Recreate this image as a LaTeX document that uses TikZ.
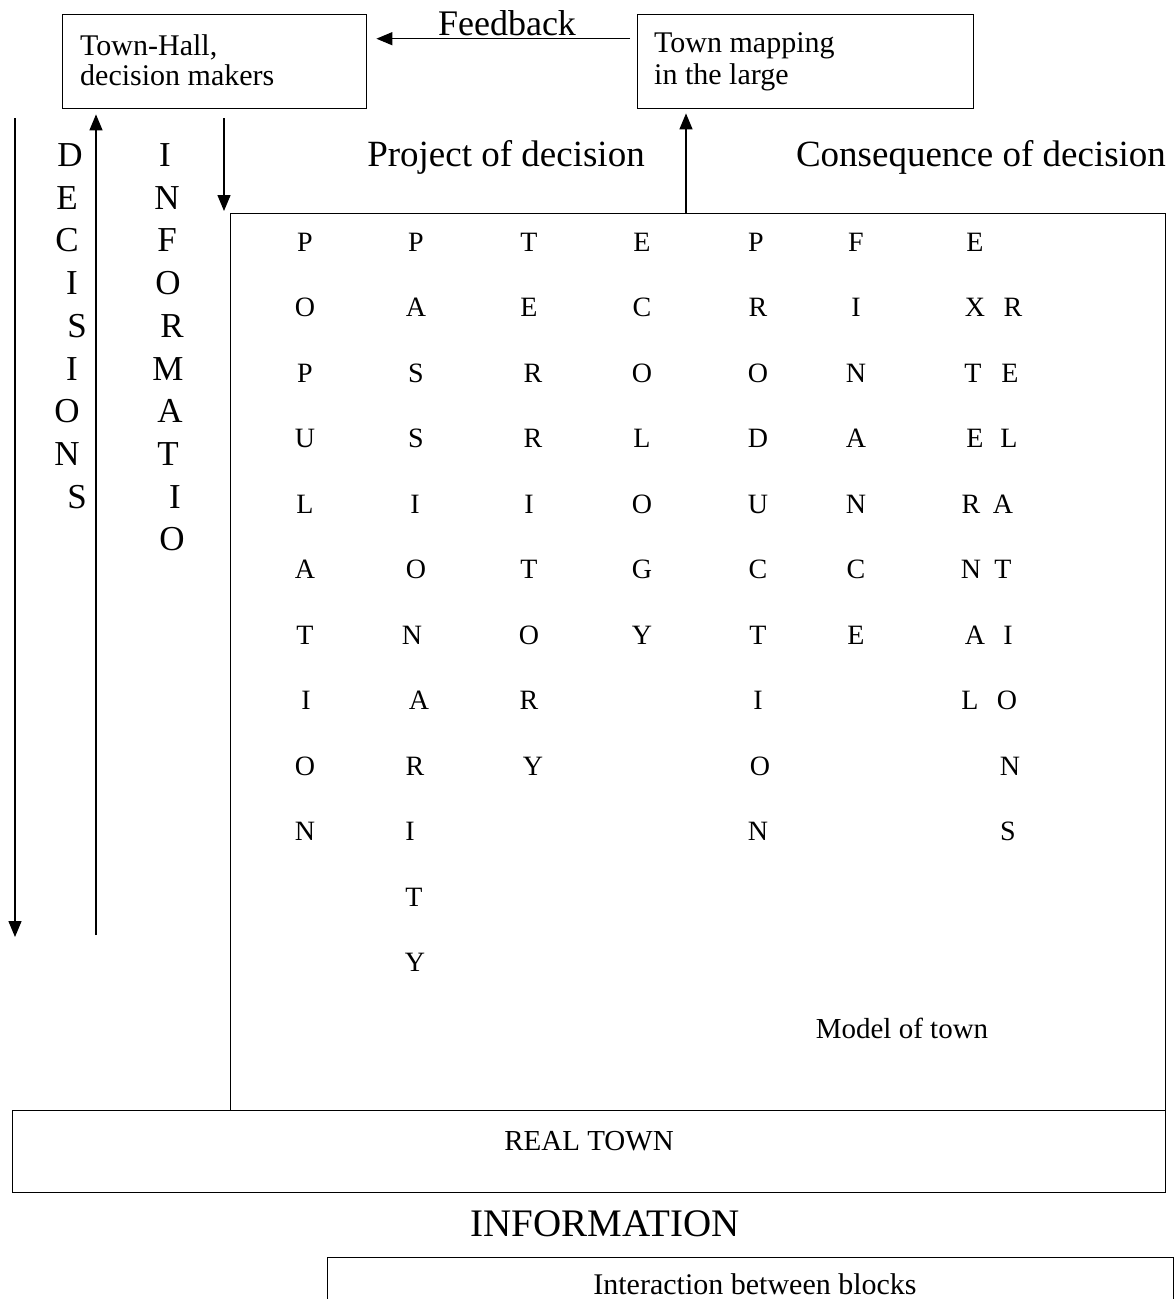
\documentclass[tikz,border=0pt]{standalone}
\usepackage{fontspec}
\setmainfont{Liberation Serif}
\usetikzlibrary{arrows.meta}
\newcommand{\fsz}[1]{\fontsize{#1}{#1}\selectfont}
\tikzset{
  box/.style={draw, line width=1.4pt, inner sep=0pt},
  arr/.style={line width=1.4pt, -{Triangle[length=16pt,width=13pt]}},
  lbl/.style={anchor=base, inner sep=0pt},
  letter/.style={anchor=base, inner sep=0pt, font=\fsz{28}},
  bigletter/.style={anchor=base, inner sep=0pt, font=\fsz{35}},
  boxtext/.style={anchor=base west, inner sep=0pt, font=\fsz{30}},
}
\begin{document}
\begin{tikzpicture}[x=1pt,y=-1pt]
\useasboundingbox (0,0) rectangle (1174,1299);
\fill[white] (0,0) rectangle (1174,1299);
\begin{scope}
\clip (0,0) rectangle (1174,1299);
% boxes
\node[box, minimum width=304pt, minimum height=94pt, anchor=north west] (th) at (62,14) {};
\node[box, minimum width=336pt, minimum height=94pt, anchor=north west] (tm) at (637,14) {};
\node[box, minimum width=935pt, minimum height=897pt, anchor=north west] (model) at (230,213) {};
\node[box, minimum width=1153pt, minimum height=82pt, anchor=north west] (real) at (12,1110) {};
\node[box, minimum width=846pt, minimum height=120pt, anchor=north west] (inter) at (327,1257) {};
\end{scope}
% box texts
\node[boxtext] (tht1) at (80,55) {Town-Hall,};
\node[boxtext] (tht2) at (80,85) {decision makers};
\node[boxtext] (tmt1) at (654,52) {Town mapping};
\node[boxtext] (tmt2) at (654,84) {in the large};
% labels
\node[lbl, font=\fsz{36}] (fb) at (507,35) {Feedback};
\node[lbl, font=\fsz{37}] (proj) at (506,166) {Project of decision};
\node[lbl, font=\fsz{37}] (cons) at (981,166) {Consequence of decision};
\node[lbl, font=\fsz{29}] (mot) at (902,1038) {Model of town};
\node[lbl, font=\fsz{29}] (rt) at (589,1150) {REAL TOWN};
\node[lbl, font=\fsz{39}] (info) at (605,1236) {INFORMATION};
\node[lbl, font=\fsz{30}] (ibb) at (755,1294) {Interaction between blocks};
% arrows
\draw[arr, shorten <=7pt, shorten >=9pt] ([yshift=23pt]tm.west) -- ([yshift=23pt]th.east);
\coordinate (m1) at (686,213);
\draw[arr, shorten >=4pt] (m1) -- (m1 |- tm.south);
\coordinate (d1) at (224,118);
\draw[arr, shorten >=2pt] (d1) -- (d1 |- model.north);
\coordinate (dtop) at (15,118);
\coordinate (dbot) at (15,937);
\draw[arr] (dtop) -- (dbot);
\coordinate (ubot) at (96,935);
\draw[arr, shorten >=5pt] (ubot) -- (ubot |- th.south);
% DECISIONS
\foreach \L/\x [count=\i] in {D/70,E/67,C/67,I/72,S/77,I/72,O/67,N/67,S/77}
  \node[bigletter] (dec\i) at (\x, {155+42.7*(\i-1)+11.5}) {\L};
% INFORMATIO
\foreach \L/\x [count=\i] in {I/165,N/167,F/167,O/168,R/172,M/168,A/170,T/168,I/175,O/172}
  \node[bigletter] (inf\i) at (\x, {155+42.7*(\i-1)+11.5}) {\L};
% model columns
\foreach \L/\x [count=\i] in {P/305,O/305,P/305,U/305,L/305,A/305,T/305,I/306,O/305,N/305}
  \node[letter] (popu\i) at (\x, {242+65.5*(\i-1)+9}) {\L};
\foreach \L/\x [count=\i] in {P/416,A/416,S/416,S/416,I/415,O/416,N/412,A/419,R/415,I/410,T/414,Y/415}
  \node[letter] (pass\i) at (\x, {242+65.5*(\i-1)+9}) {\L};
\foreach \L/\x [count=\i] in {T/529,E/529,R/533,R/533,I/529,T/529,O/529,R/529,Y/533}
  \node[letter] (terr\i) at (\x, {242+65.5*(\i-1)+9}) {\L};
\foreach \L/\x [count=\i] in {E/642,C/642,O/642,L/642,O/642,G/642,Y/642}
  \node[letter] (ecol\i) at (\x, {242+65.5*(\i-1)+9}) {\L};
\foreach \L/\x [count=\i] in {P/756,R/758,O/758,D/758,U/758,C/758,T/758,I/758,O/760,N/758}
  \node[letter] (prod\i) at (\x, {242+65.5*(\i-1)+9}) {\L};
\foreach \L/\x [count=\i] in {F/856,I/856,N/856,A/856,N/856,C/856,E/856}
  \node[letter] (fina\i) at (\x, {242+65.5*(\i-1)+9}) {\L};
\foreach \L/\x [count=\i] in {E/975,X/975,T/973,E/975,R/971,N/971,A/975,L/970}
  \node[letter] (extn\i) at (\x, {242+65.5*(\i-1)+9}) {\L};
\foreach \L/\x [count=\i] in {R/1013,E/1010,L/1009,A/1003,T/1003,I/1008,O/1007,N/1010,S/1008}
  \node[letter] (rela\i) at (\x, {242+65.5*\i+9}) {\L};
\end{tikzpicture}
\end{document}
